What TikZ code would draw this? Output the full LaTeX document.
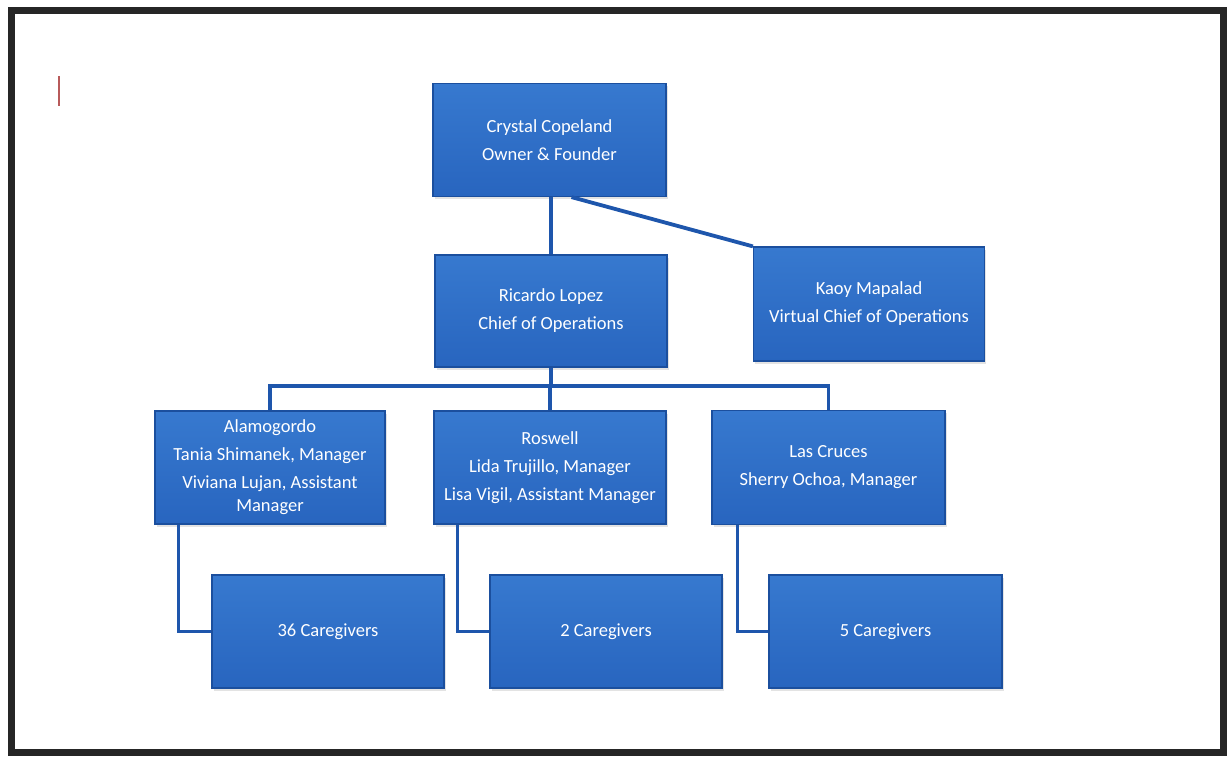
\documentclass[tikz,border=0pt]{standalone}
\usepackage{fontspec}
\setmainfont{Carlito}
\usetikzlibrary{calc,shadows}
\definecolor{boxtop}{HTML}{3779CF}
\definecolor{boxbot}{HTML}{2865BF}
\definecolor{boxedge}{HTML}{1B4F9E}
\definecolor{linkblue}{HTML}{1E56AC}
\definecolor{framegray}{HTML}{262626}
\definecolor{tickred}{HTML}{B85A5A}
\tikzset{
  orgbox/.style={draw=boxedge, line width=1.2pt, top color=boxtop, bottom color=boxbot,
    text=white, align=center, inner sep=2pt,
    font=\fontsize{18.5}{23}\selectfont,
    drop shadow={opacity=0.22, shadow xshift=1.5pt, shadow yshift=-2.5pt}},
  link/.style={draw=linkblue, line width=3.8pt}
}
\begin{document}
\begin{tikzpicture}[x=1pt,y=-1pt]
  \useasboundingbox (0,0) rectangle (1228,756);
  \fill[white] (0,0) rectangle (1228,756);
  % page frame and cursor mark
  \draw[framegray, line width=7pt] (11,10) rectangle (1223,752);
  \draw[tickred, line width=1.3pt] (59,76) -- (59,106);

  % boxes
  \node[orgbox, minimum width=233pt, minimum height=113pt] (crystal) at (549.5,140)
    {Crystal Copeland\\[5pt]Owner \& Founder};
  \node[orgbox, minimum width=232pt, minimum height=112pt] (ricardo) at (551,311)
    {Ricardo Lopez\\[5pt]Chief of Operations};
  \node[orgbox, minimum width=231pt, minimum height=114pt] (kaoy) at (869,304)
    {Kaoy Mapalad\\[5pt]Virtual Chief of Operations};
  \node[orgbox, minimum width=230pt, minimum height=113pt] (alamo) at (270,467.5)
    {Alamogordo\\[5pt]Tania Shimanek, Manager\\[5pt]Viviana Lujan, Assistant\\Manager};
  \node[orgbox, minimum width=232pt, minimum height=113pt] (roswell) at (550,467.5)
    {Roswell\\[5pt]Lida Trujillo, Manager\\[5pt]Lisa Vigil, Assistant Manager};
  \node[orgbox, minimum width=233pt, minimum height=114pt] (lascruces) at (828.5,467.5)
    {Las Cruces\\[5pt]Sherry Ochoa, Manager};
  \node[orgbox, minimum width=232pt, minimum height=113pt] (cg36) at (328,631.5) {36 Caregivers};
  \node[orgbox, minimum width=232pt, minimum height=113pt] (cg2) at (606,631.5) {2 Caregivers};
  \node[orgbox, minimum width=233pt, minimum height=113pt] (cg5) at (885.5,631.5) {5 Caregivers};

  % connectors
  \coordinate (bus) at (551,386);
  \draw[link] (ricardo.north) -- (ricardo.north |- crystal.south);
  \draw[link] ($(crystal.south)+(22,0)$) -- (kaoy.north west);
  \draw[link] (ricardo.south) -- (bus);
  \draw[link] (alamo.north) |- (bus) -| (lascruces.north);
  \draw[link] (roswell.north) -- (roswell.north |- bus);
  \draw[link] ($(alamo.south west)+(24,0)$) |- (cg36.west);
  \draw[link] ($(roswell.south west)+(24,0)$) |- (cg2.west);
  \draw[link] ($(lascruces.south west)+(26,0)$) |- (cg5.west);
\end{tikzpicture}
\end{document}
